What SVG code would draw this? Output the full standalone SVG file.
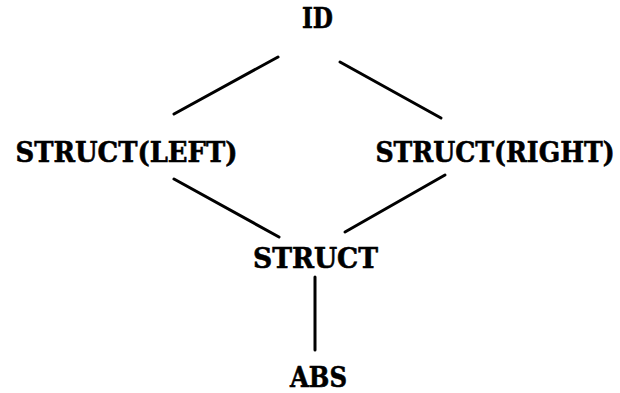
<svg xmlns="http://www.w3.org/2000/svg" width="620" height="393" viewBox="0 0 620 393">
  <style>
    .lbl { font-family: "DejaVu Serif", "Liberation Serif", serif; font-weight: bold; font-size: 28px; fill: #000; stroke: #000; stroke-width: 0.6; text-anchor: middle; }
    .edge { stroke: #000; stroke-width: 3; stroke-linecap: round; fill: none; }
  </style>
  <rect width="620" height="393" fill="#fff"/>
  <g id="connectors">
    <line class="edge" x1="278" y1="57" x2="174" y2="114"/>
    <line class="edge" x1="340" y1="62" x2="441" y2="118"/>
    <line class="edge" x1="174" y1="179" x2="279" y2="237"/>
    <line class="edge" x1="445" y1="175" x2="345" y2="232"/>
    <line class="edge" x1="315" y1="277" x2="315" y2="350"/>
  </g>
  <g id="id-node">
    <text class="lbl" x="317.5" y="28" textLength="31" lengthAdjust="spacingAndGlyphs">ID</text>
  </g>
  <g id="struct-left">
    <text class="lbl" x="126.5" y="162" textLength="222" lengthAdjust="spacingAndGlyphs">STRUCT(LEFT)</text>
  </g>
  <g id="struct-right">
    <text class="lbl" transform="translate(495 162) scale(0.9 1)">STRUCT(RIGHT)</text>
  </g>
  <g id="struct">
    <text class="lbl" x="315.5" y="268" textLength="125" lengthAdjust="spacingAndGlyphs">STRUCT</text>
  </g>
  <g id="abs">
    <text class="lbl" x="318.5" y="387" textLength="57" lengthAdjust="spacingAndGlyphs">ABS</text>
  </g>
</svg>
